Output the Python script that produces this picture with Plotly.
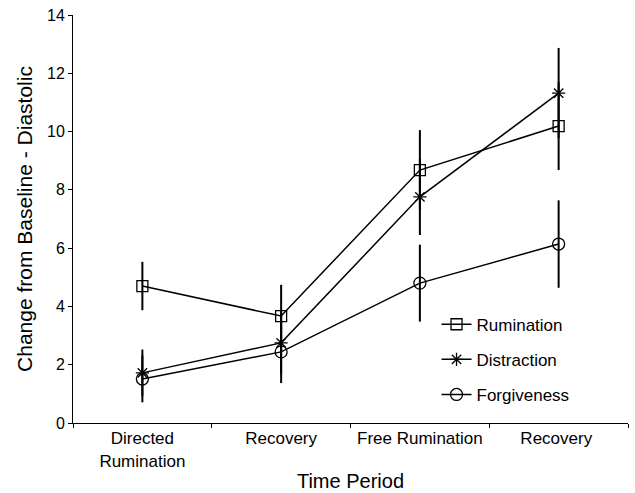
import plotly.graph_objects as go

categories = ["Directed<br>Rumination", "Recovery", "Free Rumination", "Recovery "]
rumination = [4.70, 3.67, 8.68, 10.19]
rumination_err = [0.83, 1.07, 1.37, 1.51]
distraction = [1.72, 2.75, 7.76, 11.32]
distraction_err = [0.80, 1.05, 1.31, 1.55]
forgiveness = [1.51, 2.44, 4.80, 6.14]
forgiveness_err = [0.80, 1.07, 1.32, 1.50]

series = [
    ("Rumination", rumination, rumination_err, "square-open", 11),
    ("Distraction", distraction, distraction_err, "asterisk-open", 11),
    ("Forgiveness", forgiveness, forgiveness_err, "circle-open", 12),
]

fig = go.Figure()
for name, vals, errs, sym, sz in series:
    fig.add_trace(go.Scatter(
        x=categories, y=vals, name=name, mode="lines+markers",
        legendgroup=name,
        line=dict(color="black", width=1.5),
        marker=dict(symbol=sym, size=sz, color="black", line=dict(color="black", width=1.3)),
        error_y=dict(type="data", array=errs, visible=True, color="black", thickness=2, width=0),
    ))

font_family = "Liberation Sans, Arial, sans-serif"
fig.update_layout(
    width=635, height=493,
    margin=dict(l=73, r=7, t=15, b=70),
    paper_bgcolor="white", plot_bgcolor="white",
    font=dict(family=font_family, color="black", size=16),
    showlegend=True,
    hovermode=False,
    legend=dict(x=0.655, y=0.285, xanchor="left", yanchor="top",
                bgcolor="rgba(0,0,0,0)", font=dict(size=17),
                traceorder="grouped", tracegroupgap=10),
)
fig.update_xaxes(
    type="category", range=[-0.5, 3.5], automargin=False,
    showline=True, linecolor="black", linewidth=1,
    ticks="outside", tickson="boundaries", ticklen=4, tickcolor="black",
    showgrid=False, zeroline=False,
    tickfont=dict(size=17),
    title=dict(text="Time Period", font=dict(size=20), standoff=4),
)
fig.update_yaxes(
    range=[0, 14], dtick=2, automargin=False,
    showline=True, linecolor="black", linewidth=1,
    ticks="outside", ticklen=4, tickcolor="black",
    showgrid=False, zeroline=False,
    tickfont=dict(size=16),
    title=dict(text="Change from Baseline - Diastolic", font=dict(size=21), standoff=8),
)

fig.write_html("out.html", config={"displayModeBar": False, "staticPlot": True},
               post_script="document.body.style.margin='0';document.body.style.padding='0';")
